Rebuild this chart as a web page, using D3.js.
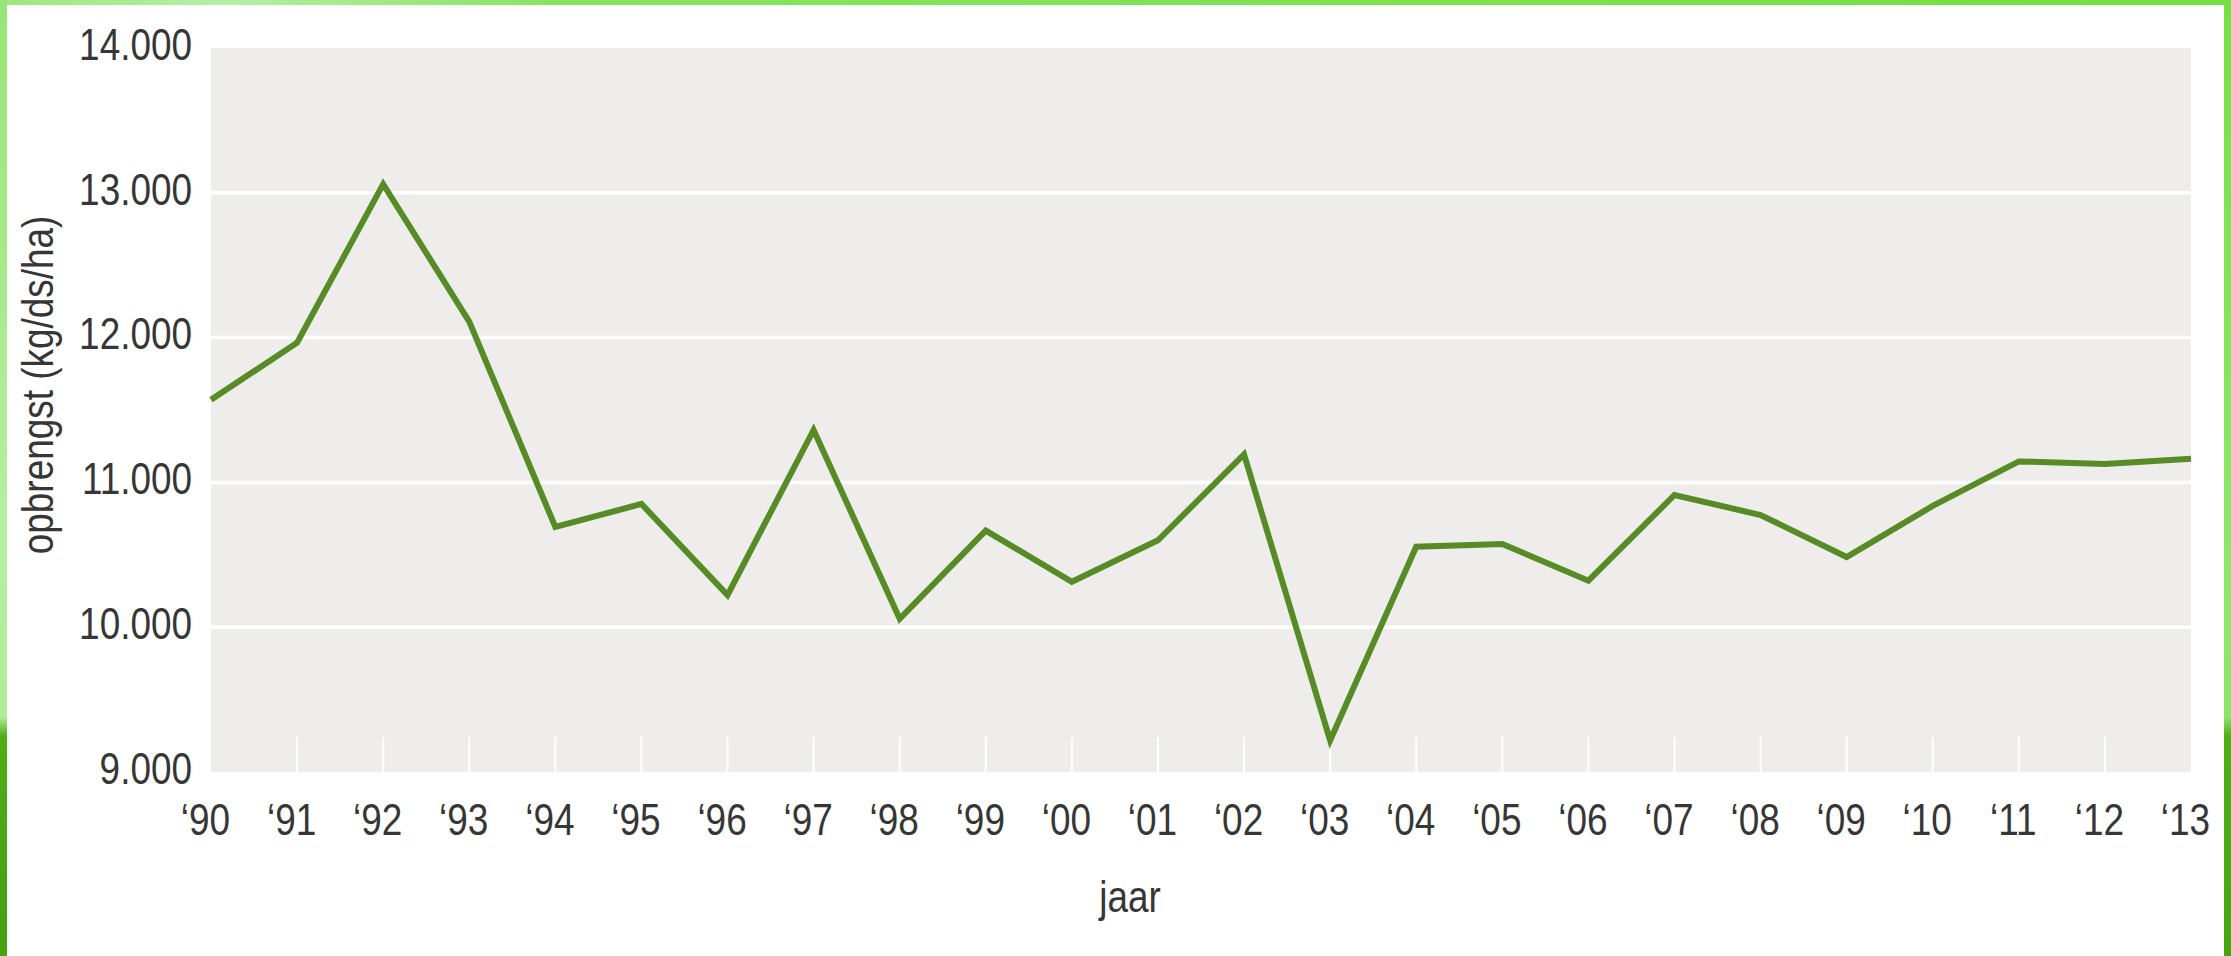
<!DOCTYPE html>
<html lang="nl">
<head>
<meta charset="UTF-8">
<title>opbrengst per jaar</title>
<script src="https://d3js.org/d3.v7.min.js"></script>
<style>
  html, body { margin: 0; padding: 0; background: #fff; }
  svg { display: block; }
  text { font-family: "Liberation Sans", Arial, sans-serif; fill: #363636; }
</style>
</head>
<body>
<script>
// jaren en opbrengst (kg ds/ha)
const years = ["90","91","92","93","94","95","96","97","98","99","00","01",
               "02","03","04","05","06","07","08","09","10","11","12","13"];
const yieldValues = [11570, 11965, 13060, 12110, 10692, 10851, 10222, 11362,
                     10058, 10667, 10314, 10600, 11194, 9218, 10556, 10575,
                     10321, 10913, 10775, 10485, 10838, 11145, 11127, 11163];
const yTicks = [9000, 10000, 11000, 12000, 13000, 14000];
const yLabel = "opbrengst (kg/ds/ha)";
const xLabel = "jaar";

const W = 2231, H = 956;
const plot = { left: 211, right: 2191, top: 48, bottom: 772 };
const fontSize = "45px";
const narrow = 0.82; // smalle letter, zoals in het origineel

const svg = d3.select("body").append("svg")
    .attr("width", W).attr("height", H);

// groene rand (achtergrond van de pagina)
const defs = svg.append("defs");
const gl = defs.append("linearGradient").attr("id", "leftEdge")
    .attr("x1", 0).attr("y1", 0).attr("x2", 0).attr("y2", 1);
gl.append("stop").attr("offset", "0%").attr("stop-color", "#98e577");
gl.append("stop").attr("offset", "55%").attr("stop-color", "#b6eea0");
gl.append("stop").attr("offset", "75%").attr("stop-color", "#b0ec98");
gl.append("stop").attr("offset", "77%").attr("stop-color", "#4fac16");
gl.append("stop").attr("offset", "100%").attr("stop-color", "#45a012");
const gr = defs.append("linearGradient").attr("id", "rightEdge")
    .attr("x1", 0).attr("y1", 0).attr("x2", 0).attr("y2", 1);
gr.append("stop").attr("offset", "0%").attr("stop-color", "#76e043");
gr.append("stop").attr("offset", "60%").attr("stop-color", "#8fe66a");
gr.append("stop").attr("offset", "75%").attr("stop-color", "#8ce468");
gr.append("stop").attr("offset", "77%").attr("stop-color", "#4fae14");
gr.append("stop").attr("offset", "100%").attr("stop-color", "#47a60f");
const gt = defs.append("linearGradient").attr("id", "topEdge")
    .attr("x1", 0).attr("y1", 0).attr("x2", 1).attr("y2", 0);
gt.append("stop").attr("offset", "0%").attr("stop-color", "#9be87c");
gt.append("stop").attr("offset", "10%").attr("stop-color", "#b4f0a4");
gt.append("stop").attr("offset", "25%").attr("stop-color", "#86e45e");
gt.append("stop").attr("offset", "100%").attr("stop-color", "#74df40");

svg.append("rect").attr("x", 0).attr("y", 0).attr("width", W).attr("height", 5)
    .attr("fill", "url(#topEdge)");
svg.append("rect").attr("x", 0).attr("y", 0).attr("width", 7).attr("height", H)
    .attr("fill", "url(#leftEdge)");
svg.append("rect").attr("x", 2224).attr("y", 0).attr("width", 7).attr("height", H)
    .attr("fill", "url(#rightEdge)");

const x = d3.scalePoint().domain(years).range([plot.left, plot.right]);
const y = d3.scaleLinear().domain([9000, 14000]).range([plot.bottom, plot.top]);

const nl = d3.formatLocale({ decimal: ",", thousands: ".", grouping: [3], currency: ["€", ""] });
const fmt = nl.format(",.0f");

// grijs plotvlak
svg.append("rect")
    .attr("x", plot.left).attr("y", plot.top)
    .attr("width", plot.right - plot.left).attr("height", plot.bottom - plot.top)
    .attr("fill", "#eeedeb");

// witte rasterlijnen
svg.append("g").selectAll("line")
    .data(yTicks.filter(d => d > 9000 && d < 14000))
    .join("line")
    .attr("x1", plot.left).attr("x2", plot.right)
    .attr("y1", d => y(d)).attr("y2", d => y(d))
    .attr("stroke", "#fff").attr("stroke-width", 3.5);

// korte witte streepjes onderaan
svg.append("g").selectAll("line")
    .data(years.slice(1, -1))
    .join("line")
    .attr("x1", d => x(d)).attr("x2", d => x(d))
    .attr("y1", plot.bottom - 35).attr("y2", plot.bottom)
    .attr("stroke", "#fff").attr("stroke-width", 2);

// y-as
const yAxis = svg.append("g")
    .attr("transform", `translate(${plot.left},0)`)
    .call(d3.axisLeft(y).tickValues(yTicks).tickFormat(fmt).tickSize(0).tickPadding(19));
yAxis.select(".domain").remove();
yAxis.selectAll("text")
    .attr("dy", "0.25em")
    .attr("font-family", null)
    .attr("font-size", null)
    .style("font-size", fontSize)
    .attr("fill", "#363636");

// x-as
const xAxis = svg.append("g")
    .attr("transform", `translate(0,${plot.bottom})`)
    .call(d3.axisBottom(x).tickFormat(d => "\u2018" + d).tickSize(0).tickPadding(31));
xAxis.select(".domain").remove();
xAxis.selectAll("text")
    .attr("dx", -6)
    .attr("font-family", null)
    .attr("font-size", null)
    .style("font-size", fontSize)
    .attr("fill", "#363636");

// lijn
const line = d3.line()
    .x((d, i) => x(years[i]))
    .y(d => y(d));
svg.append("path")
    .datum(yieldValues)
    .attr("d", line)
    .attr("fill", "none")
    .attr("stroke", "#578b26")
    .attr("stroke-width", 6)
    .attr("stroke-linejoin", "miter");

// astitels
svg.append("text")
    .attr("transform", "translate(53,385) rotate(-90)")
    .attr("text-anchor", "middle")
    .style("font-size", fontSize)
    .text(yLabel);

svg.append("text")
    .attr("x", 1130).attr("y", 912)
    .attr("text-anchor", "middle")
    .style("font-size", fontSize)
    .text(xLabel);

// alle tekst smaller maken
svg.selectAll("text").each(function () {
    const w = this.getComputedTextLength();
    d3.select(this)
        .attr("textLength", (w * narrow).toFixed(1))
        .attr("lengthAdjust", "spacingAndGlyphs");
});
</script>
</body>
</html>
